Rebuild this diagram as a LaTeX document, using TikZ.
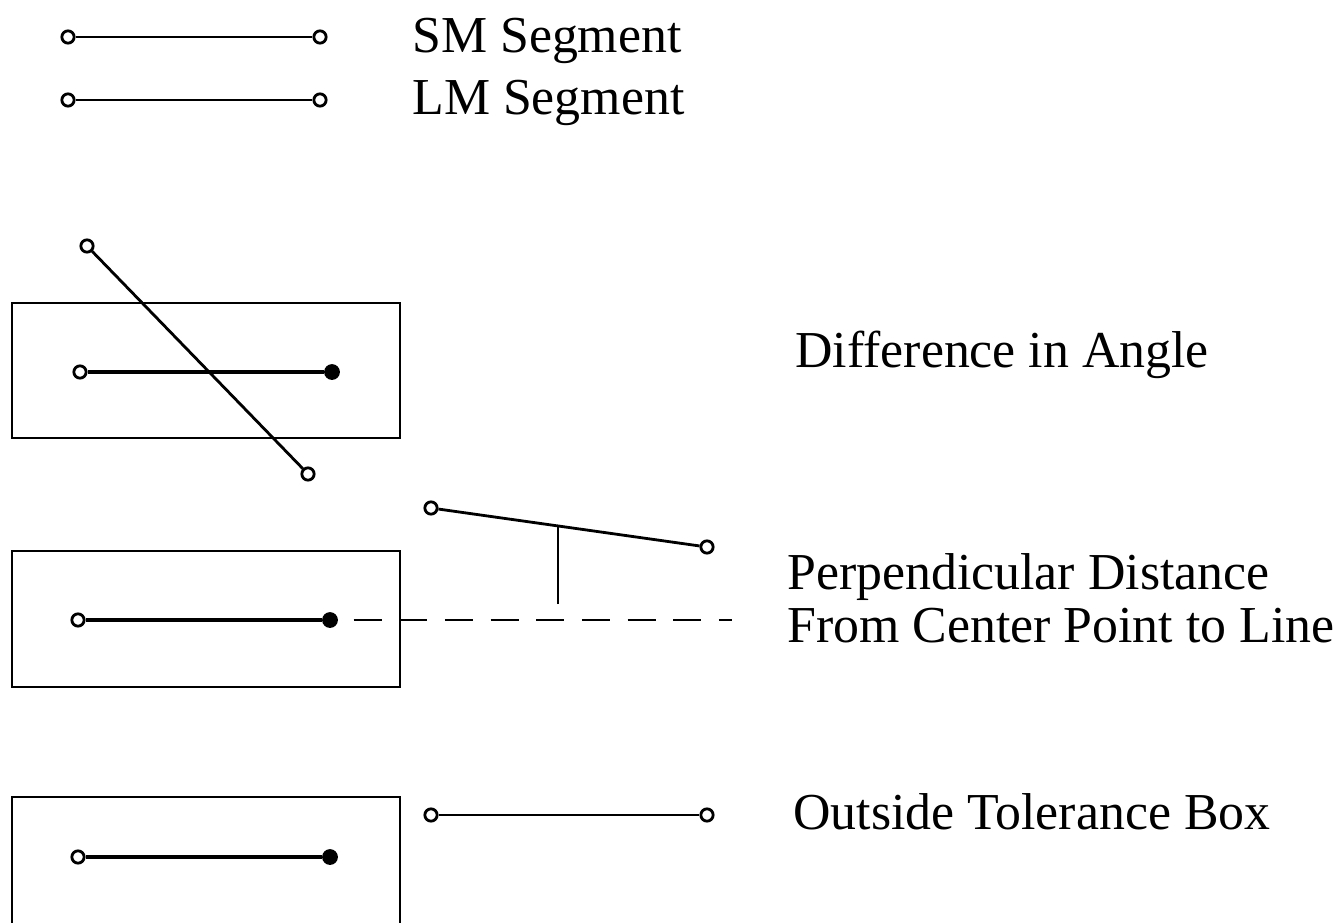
\documentclass[tikz,border=0pt]{standalone}
\usepackage{fontspec}
\setmainfont{Liberation Serif}
\usetikzlibrary{positioning}

\begin{document}
\begin{tikzpicture}[
    x=0.02cm, y=-0.02cm,
    smseg/.style={line width=1.6pt},
    lmseg/.style={line width=2.7pt},
    tolbox/.style={line width=1.4pt},
    ring/.style={circle, draw, line width=1.6pt, fill=white, inner sep=0pt, minimum size=7pt},
    blob/.style={circle, fill, inner sep=0pt, minimum size=9pt},
    lbl/.style={anchor=base west, inner sep=0pt, font=\fontsize{29.5}{36}\selectfont},
  ]
  \useasboundingbox (0,0) rectangle (1339,923);

  % legend
  \node[ring] (sma) at (68,37) {};
  \node[ring] (smb) at (320,37) {};
  \node[ring] (lma) at (68,100) {};
  \node[ring] (lmb) at (320,100) {};
  \draw[smseg] (sma) -- (smb);
  \draw[smseg] (lma) -- (lmb);
  \node[lbl] (smtxt) at (412,52) {SM Segment};
  \node[lbl] (lmtxt) at (412,114) {LM Segment};

  % difference in angle
  \draw[tolbox] (12,303) rectangle (400,438);
  \node[ring] (aa) at (80,372) {};
  \node[blob] (ab) at (332,372) {};
  \draw[lmseg] (aa) -- (ab);
  \node[ring] (ta) at (87,246) {};
  \node[ring] (tb) at (308,474) {};
  \draw[smseg] (ta) -- (tb);
  \node[lbl] (angtxt) at (795,367) {Difference in Angle};

  % perpendicular distance
  \draw[tolbox] (12,551) rectangle (400,687);
  \node[ring] (pa) at (78,620) {};
  \node[blob] (pb) at (330,620) {};
  \draw[lmseg] (pa) -- (pb);
  \coordinate (pend) at (732,620);
  \draw[line width=1.3pt, dash pattern=on 16pt off 10pt, dash phase=-3pt] (pb.east) ++(10,0) -- (pend);
  \node[ring] (qa) at (431,508) {};
  \node[ring] (qb) at (707,547) {};
  \draw[smseg] (qa) -- (qb);
  \coordinate (foot) at (558,604);
  \draw[line width=1.3pt] (foot) -- (558,526);
  \node[lbl] (perptxt) at (787,589) {Perpendicular Distance};
  \node[lbl] (fromtxt) at (787,642) {From Center Point to Line};

  % outside tolerance box
  \draw[tolbox] (12,930) -- (12,797) -- (400,797) -- (400,930);
  \node[ring] (oa) at (78,857) {};
  \node[blob] (ob) at (330,857) {};
  \draw[lmseg] (oa) -- (ob);
  \node[ring] (ra) at (431,815) {};
  \node[ring] (rb) at (707,815) {};
  \draw[smseg] (ra) -- (rb);
  \node[lbl] (outtxt) at (793,829) {Outside Tolerance Box};
\end{tikzpicture}
\end{document}
